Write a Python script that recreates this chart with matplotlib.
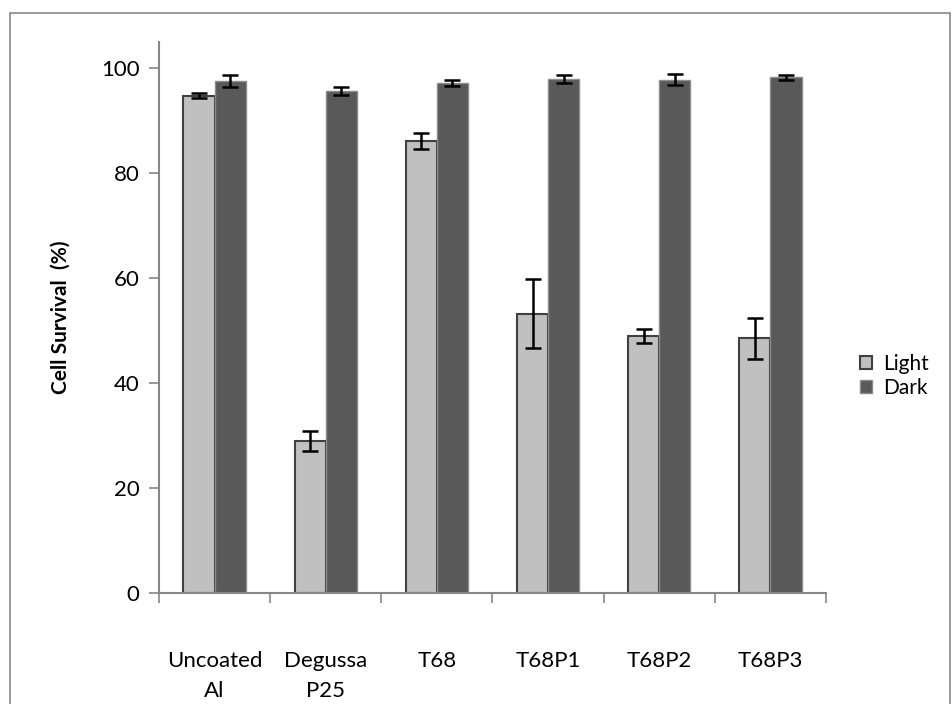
import matplotlib

matplotlib.use("Agg")
import matplotlib.pyplot as plt
import numpy as np
from matplotlib.patches import Rectangle

# values
categories = ["Uncoated\nAl", "Degussa\nP25", "T68", "T68P1", "T68P2", "T68P3"]
light = [94.7, 28.9, 86.1, 53.2, 49.0, 48.5]
light_err = [0.5, 1.9, 1.6, 6.6, 1.3, 3.9]
dark = [97.5, 95.6, 97.1, 97.9, 97.8, 98.2]
dark_err = [1.2, 0.7, 0.6, 0.8, 1.1, 0.5]
yticks = [0, 20, 40, 60, 80, 100]

plt.rcParams["font.family"] = ["Lato", "DejaVu Sans"]

fig = plt.figure(figsize=(9.53, 7.04), dpi=100)
ax = fig.add_axes([159 / 953, 1 - 593 / 704, 667 / 953, (593 - 41.7) / 704])

# chart-area border like the Excel export
fig.patches.append(Rectangle((10 / 953, -0.05), 940 / 953, 1.05 - 13 / 704,
                             transform=fig.transFigure, fill=False,
                             edgecolor="#888888", linewidth=1.2))

x = np.arange(len(categories))
w = 0.28
err_kw = dict(ecolor="black", elinewidth=1.8, capsize=6, capthick=1.8)
ax.bar(x - w / 2, light, w, yerr=light_err, color="#c0c0c0",
       edgecolor="#404040", linewidth=1.5, label="Light", error_kw=err_kw)
ax.bar(x + w / 2, dark, w, yerr=dark_err, color="#595959",
       edgecolor="#8c8c8c", linewidth=1.0, label="Dark", error_kw=err_kw)

ax.set_xlim(-0.5, len(categories) - 0.5)
ax.set_ylim(0, 105)
ax.set_yticks(yticks)
ax.set_yticklabels([str(t) for t in yticks], fontsize=16)
ax.set_xticks(x)
ax.set_xticklabels(categories, fontsize=16, linespacing=1.6)
ax.tick_params(axis="x", length=0, pad=42)
ax.set_xticks(np.arange(len(categories) + 1) - 0.5, minor=True)
ax.tick_params(axis="x", which="minor", length=7, color="#868686", width=1.2)
ax.tick_params(axis="y", length=7, color="#868686", width=1.2, pad=7)

for side in ["top", "right"]:
    ax.spines[side].set_visible(False)
for side in ["left", "bottom"]:
    ax.spines[side].set_color("#868686")
    ax.spines[side].set_linewidth(1.5)

ax.set_ylabel("Cell Survival  (%)", fontsize=15, fontweight="bold", labelpad=22)

fig.legend(loc="center left", bbox_to_anchor=(860 / 953, 1 - 376 / 704),
           frameon=False, fontsize=15, handlelength=0.6, handleheight=0.6,
           labelspacing=0.2, handletextpad=0.5, borderaxespad=0, borderpad=0)

fig.savefig("out.png", dpi=100, facecolor="white")
